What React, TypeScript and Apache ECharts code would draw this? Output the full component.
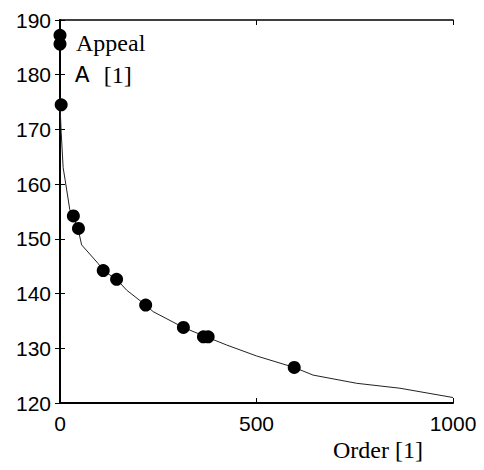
import React, { useEffect, useRef } from "react";
import * as echarts from "echarts";

const xTicks = [0, 500, 1000];
const yTicks = [120, 130, 140, 150, 160, 170, 180, 190];

// observed points (Order, Appeal)
const pointX = [0, 0, 3, 34, 47, 110, 144, 218, 314, 365, 377, 596];
const pointY = [187.2, 185.6, 174.5, 154.2, 151.9, 144.2, 142.6, 137.9, 133.8, 132.1, 132.1, 126.5];

// fitted curve
const curveX = [0, 3, 8, 13, 25, 34, 47, 55, 97, 110, 144, 170, 218, 237, 314, 365, 424, 500, 596, 644, 755, 865, 1000];
const curveY = [174.5, 169.5, 163, 160.8, 155.3, 154.2, 151.5, 148.9, 145.5, 144.2, 142.6, 140.6, 137.9, 136.7, 133.8, 132.3, 130.6, 128.6, 126.5, 125.1, 123.6, 122.7, 121];

export default function App() {
  const ref = useRef<HTMLDivElement>(null);
  useEffect(() => {
    const chart = echarts.init(ref.current!, null, { renderer: "svg" });
    const axisCommon = {
      axisLine: { show: true, lineStyle: { color: "#000", width: 2 } },
      axisTick: { show: true, inside: true, length: 5, lineStyle: { color: "#000", width: 1 } },
      splitLine: { show: false },
    };
    chart.setOption({
      animation: false,
      backgroundColor: "#fff",
      grid: { left: 52, right: 31, top: 12, bottom: 67 },
      xAxis: [
        {
          type: "value",
          min: 0,
          max: 1000,
          interval: 500,
          ...axisCommon,
          axisLabel: {
            color: "#000",
            fontFamily: "Liberation Sans",
            fontSize: 21,
            margin: 10,
            formatter: (v: number) => (xTicks.includes(v) ? String(v) : ""),
          },
        },
        {
          type: "value",
          position: "top",
          min: 0,
          max: 1000,
          interval: 500,
          ...axisCommon,
          axisLine: { show: true, lineStyle: { color: "#000", width: 1.5 } },
          axisLabel: { show: false },
        },
      ],
      yAxis: [
        {
          type: "value",
          min: 120,
          max: 190,
          interval: 10,
          ...axisCommon,
          axisLabel: {
            color: "#000",
            fontFamily: "Liberation Sans",
            fontSize: 21,
            margin: 9,
            formatter: (v: number) => (yTicks.includes(v) ? String(v) : ""),
          },
        },
        {
          type: "value",
          position: "right",
          min: 120,
          max: 190,
          interval: 10,
          ...axisCommon,
          axisLine: { show: true, lineStyle: { color: "#000", width: 1.5 } },
          axisLabel: { show: false },
        },
      ],
      series: [
        {
          type: "line",
          data: curveX.map((x, i) => [x, curveY[i]]),
          showSymbol: false,
          symbol: "none",
          lineStyle: { color: "#222", width: 1 },
          z: 2,
        },
        {
          type: "scatter",
          data: pointX.map((x, i) => [x, pointY[i]]),
          symbol: "circle",
          symbolSize: 13,
          itemStyle: { color: "#000", opacity: 1 },
          z: 3,
        },
      ],
      graphic: [
        {
          type: "text",
          x: 68,
          y: 35,
          style: {
            text: "Appeal",
            fontFamily: "Liberation Serif",
            fontSize: 24,
            fill: "#000",
            verticalAlign: "middle",
          },
        },
        {
          type: "text",
          x: 67,
          y: 67,
          style: {
            text: "{m|A }{s|[1]}",
            verticalAlign: "middle",
            rich: {
              m: { fontFamily: "Liberation Mono", fontSize: 24, fill: "#000" },
              s: { fontFamily: "Liberation Serif", fontSize: 24, fill: "#000" },
            },
          },
        },
        {
          type: "text",
          x: 325,
          y: 442,
          style: {
            text: "Order [1]",
            fontFamily: "Liberation Serif",
            fontSize: 24,
            fill: "#000",
            verticalAlign: "middle",
          },
        },
      ],
    });
    return () => chart.dispose();
  }, []);
  return <div ref={ref} style={{ width: 476, height: 462 }} />;
}
